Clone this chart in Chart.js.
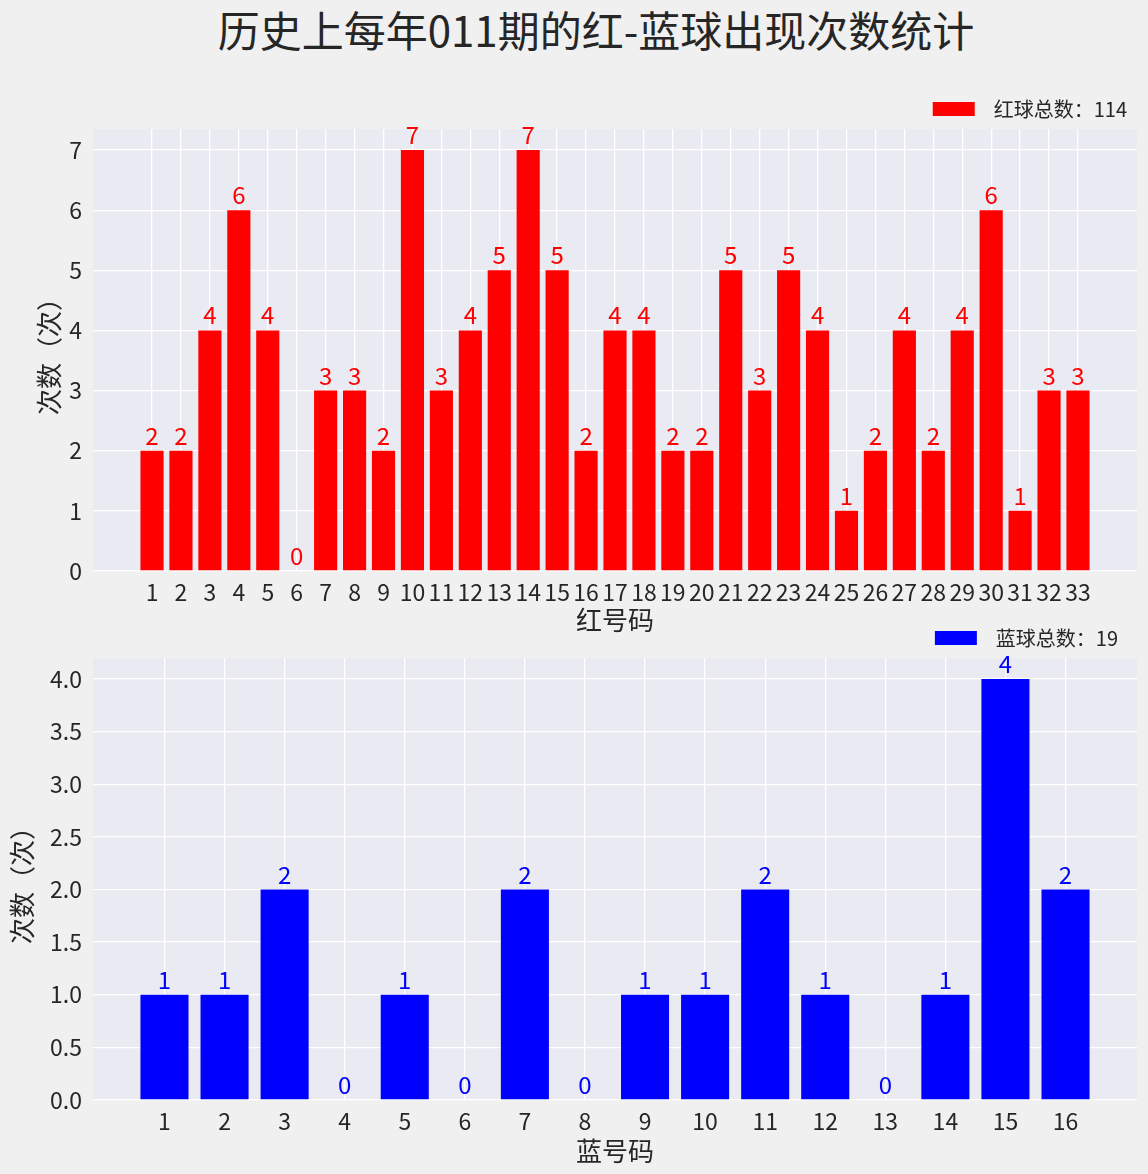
<!DOCTYPE html>
<html>
<head>
<meta charset="utf-8">
<script src="https://cdn.jsdelivr.net/npm/chart.js@4.4.0/dist/chart.umd.min.js"></script>
<style>
  body { margin: 0; background: #f0f0f0; width: 1148px; height: 1174px; overflow: hidden; position: relative; font-family: 'Noto Sans CJK SC', sans-serif; }
  #title { position: absolute; top: 8px; left: 0; width: 1192px; text-align: center; font-size: 42px; line-height: 42px; color: #262626; }
  #redChart { position: absolute; left: 0; top: 60px; }
  #blueChart { position: absolute; left: 0; top: 590px; }
</style>
</head>
<body>
<div id="title">历史上每年011期的红-蓝球出现次数统计</div>
<canvas id="redChart" width="1148" height="580"></canvas>
<canvas id="blueChart" width="1148" height="584"></canvas>
<script>
// data
const RED_BALLS   = [1, 2, 3, 4, 5, 6, 7, 8, 9, 10, 11, 12, 13, 14, 15, 16, 17, 18, 19, 20, 21, 22, 23, 24, 25, 26, 27, 28, 29, 30, 31, 32, 33];
const RED_COUNTS  = [2, 2, 4, 6, 4, 0, 3, 3, 2, 7, 3, 4, 5, 7, 5, 2, 4, 4, 2, 2, 5, 3, 5, 4, 1, 2, 4, 2, 4, 6, 1, 3, 3];
const RED_Y_TICKS = [0, 1, 2, 3, 4, 5, 6, 7];

const BLUE_BALLS   = [1, 2, 3, 4, 5, 6, 7, 8, 9, 10, 11, 12, 13, 14, 15, 16];
const BLUE_COUNTS  = [1, 1, 2, 0, 1, 0, 2, 0, 1, 1, 2, 1, 0, 1, 4, 2];
const BLUE_Y_TICKS = [0, 0.5, 1, 1.5, 2, 2.5, 3, 3.5, 4];

const TEXT_COLOR = '#262626';

Chart.defaults.font.family = "'Noto Sans CJK SC', sans-serif";
Chart.defaults.color = TEXT_COLOR;

// plot area background
const plotBg = {
  id: 'plotBg',
  beforeDraw(chart) {
    const { ctx, chartArea: a } = chart;
    ctx.save();
    ctx.fillStyle = '#eaeaf2';
    ctx.fillRect(a.left, a.top, a.right - a.left, a.bottom - a.top);
    ctx.restore();
  }
};

// value labels above bars
const barLabels = {
  id: 'barLabels',
  afterDatasetsDraw(chart) {
    const { ctx } = chart;
    chart.data.datasets.forEach((ds, di) => {
      const meta = chart.getDatasetMeta(di);
      ctx.save();
      ctx.fillStyle = ds.backgroundColor;
      ctx.font = "24px 'Noto Sans CJK SC'";
      ctx.textAlign = 'center';
      ctx.textBaseline = 'alphabetic';
      meta.data.forEach((bar, i) => {
        ctx.fillText(String(ds.data[i].y), bar.x, bar.y - 6);
      });
      ctx.restore();
    });
  }
};

function makeChart(id, o) {
  const total = o.counts.reduce((a, b) => a + b, 0);
  return new Chart(document.getElementById(id), {
    type: 'bar',
    data: {
      datasets: [{
        label: '  ' + o.legend + total + o.legendTail,
        data: o.balls.map((b, i) => ({ x: b, y: o.counts[i] })),
        backgroundColor: o.color,
        barPercentage: 0.8,
        categoryPercentage: 1.0,
      }]
    },
    options: {
      responsive: false,
      animation: false,
      layout: { padding: { top: o.padTop, right: 11, left: 0, bottom: 0 } },
      plugins: {
        legend: {
          position: 'top',
          align: 'end',
          labels: { boxWidth: 42, boxHeight: 14, padding: 10, color: TEXT_COLOR, font: { size: 20 } }
        },
        tooltip: { enabled: false }
      },
      scales: {
        x: {
          type: 'linear',
          min: o.xMin, max: o.xMax,
          offset: false,
          border: { display: false },
          grid: { color: '#ffffff', lineWidth: 1.3, offset: false, drawTicks: false },
          ticks: { font: { size: 23 }, color: TEXT_COLOR, padding: 7, autoSkip: false, maxRotation: 0, minRotation: 0 },
          afterBuildTicks: s => { s.ticks = o.balls.map(v => ({ value: v })); },
          afterFit: s => { s.height = o.xAxisH; },
          title: { display: true, text: o.xTitle, font: { size: 26 }, color: TEXT_COLOR, padding: { top: 0, bottom: o.xTitlePad } }
        },
        y: {
          min: 0, max: o.yMax,
          border: { display: false },
          grid: { color: '#ffffff', lineWidth: 1.3, drawTicks: false },
          ticks: { font: { size: 23 }, color: TEXT_COLOR, padding: 11, callback: o.yFmt },
          afterBuildTicks: s => { s.ticks = o.yTicks.map(v => ({ value: v })); },
          afterFit: s => { s.width = 93; },
          title: { display: true, text: '次数（次）', font: { size: 26 }, color: TEXT_COLOR, padding: { top: o.yTitlePad, bottom: 0 } }
        }
      }
    },
    plugins: [plotBg, barLabels]
  });
}

makeChart('redChart', {
  balls: RED_BALLS, counts: RED_COUNTS, color: '#ff0000', legend: '红球总数：', legendTail: '',
  xMin: -1.04, xMax: 35.04, yMax: 7.35, yTicks: RED_Y_TICKS,
  yFmt: v => String(v), xTitle: '红号码',
  padTop: 29, xAxisH: 69, xTitlePad: 4, yTitlePad: 34
});

makeChart('blueChart', {
  balls: BLUE_BALLS, counts: BLUE_COUNTS, color: '#0000ff', legend: '蓝球总数：', legendTail: '  ',
  xMin: -0.19, xMax: 17.19, yMax: 4.2, yTicks: BLUE_Y_TICKS,
  yFmt: v => Number(v).toFixed(1), xTitle: '蓝号码',
  padTop: 28, xAxisH: 74, xTitlePad: 7, yTitlePad: 7
});
</script>
</body>
</html>
